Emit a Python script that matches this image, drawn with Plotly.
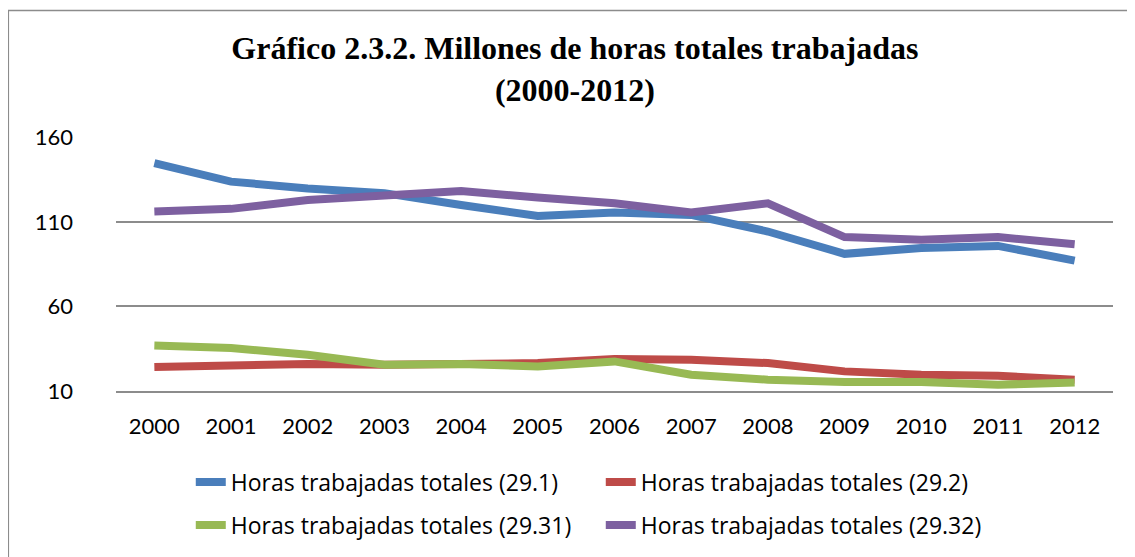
import plotly.graph_objects as go

years = ['2000', '2001', '2002', '2003', '2004', '2005', '2006',
         '2007', '2008', '2009', '2010', '2011', '2012']

# millones de horas
horas_29_1 = [144.7, 133.8, 129.8, 127.0, 120.0, 113.5, 115.5,
              114.1, 104.3, 91.1, 94.5, 95.8, 87.1]
horas_29_2 = [24.2, 25.5, 26.0, 25.5, 26.1, 26.5, 28.9,
              28.5, 26.5, 21.6, 19.6, 19.0, 16.7]
horas_29_31 = [36.9, 35.4, 31.4, 25.5, 26.0, 24.5, 27.5,
               19.6, 16.7, 15.3, 15.3, 13.7, 15.1]
horas_29_32 = [116.1, 117.7, 123.0, 125.5, 128.3, 124.4, 121.0,
               115.5, 121.0, 101.0, 99.4, 101.0, 96.8]

series = [
    ('Horas trabajadas totales (29.1)', horas_29_1, '#4A7EBB', 'legend'),
    ('Horas trabajadas totales (29.2)', horas_29_2, '#BE4B48', 'legend'),
    ('Horas trabajadas totales (29.31)', horas_29_31, '#98B954', 'legend2'),
    ('Horas trabajadas totales (29.32)', horas_29_32, '#7D60A0', 'legend2'),
]

fig = go.Figure()

for name, vals, color, leg in series:
    fig.add_trace(go.Scatter(
        x=years,
        y=vals,
        name=name,
        mode='lines',
        line=dict(color=color, width=8),
        legend=leg
    ))

legend_style = dict(
    orientation='h',
    xanchor='left',
    x=0.075,
    yanchor='middle',
    entrywidth=365,
    entrywidthmode='pixels',
    font=dict(family='Open Sans', size=23, color='#000000'),
    bgcolor='rgba(0,0,0,0)',
    traceorder='normal'
)

# the page body adds an 8px offset, so the figure is sized to fit the window
fig.update_layout(
    width=1127,
    height=549,
    margin=dict(l=108, r=22, t=129, b=165),
    paper_bgcolor='white',
    plot_bgcolor='white',
    title=dict(
        text='<b>Gráfico 2.3.2. Millones de horas totales trabajadas<br>(2000-2012)</b>',
        font=dict(family='Liberation Serif', size=32, color='#000000'),
        x=0.503,
        xanchor='center',
        xref='container',
        y=0.907,
        yanchor='top',
        yref='container'
    ),
    xaxis=dict(
        type='category',
        range=[-0.5, 12.5],
        showgrid=False,
        showline=True,
        linecolor='#8C8C8C',
        linewidth=1.5,
        ticks='',
        ticklabelstandoff=15,
        tickfont=dict(family='Lato', size=22, color='#000000')
    ),
    yaxis=dict(
        range=[10, 160.2],
        tickvals=[10, 60, 110, 160],
        showgrid=True,
        gridcolor='#8C8C8C',
        gridwidth=1.5,
        zeroline=False,
        showline=False,
        ticks='',
        ticklabelstandoff=42,
        tickfont=dict(family='Lato', size=22, color='#000000')
    ),
    legend=dict(legend_style, y=-0.353),
    legend2=dict(legend_style, y=-0.522),
    shapes=[dict(
        type='rect', xref='paper', yref='paper',
        x0=-0.108, x1=1.03, y0=-0.7, y1=1.498,
        line=dict(color='#8C8C8C', width=1.5),
        layer='below'
    )]
)

fig.write_html('out.html')
